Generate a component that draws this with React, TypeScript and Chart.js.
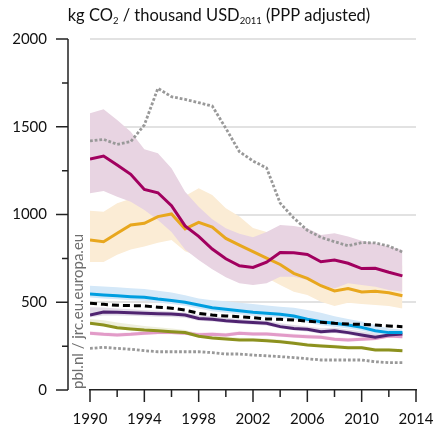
import React, { useEffect, useRef } from "react";
import { Chart, registerables } from "chart.js";
Chart.register(...registerables);

const FONT = 'Lato, "Open Sans", sans-serif';

const years = [1990, 1991, 1992, 1993, 1994, 1995, 1996, 1997, 1998, 1999, 2000, 2001, 2002, 2003, 2004, 2005, 2006, 2007, 2008, 2009, 2010, 2011, 2012, 2013];
const xTickValues = [1990, 1992, 1994, 1996, 1998, 2000, 2002, 2004, 2006, 2008, 2010, 2012, 2014];
const xLabelYears = [1990, 1994, 1998, 2002, 2006, 2010, 2014];
const yTickValues = [0, 250, 500, 750, 1000, 1250, 1500, 1750, 2000];
const yLabelValues = [0, 500, 1000, 1500, 2000];

// series values (kg CO2 / thousand USD2011)
const grayTop = [1419, 1428, 1400, 1415, 1510, 1719, 1671, 1656, 1637, 1618, 1491, 1358, 1305, 1265, 1065, 980, 910, 870, 845, 822, 840, 838, 820, 786];
const magenta = [1316, 1333, 1282, 1229, 1143, 1124, 1050, 935, 875, 803, 748, 708, 698, 728, 783, 782, 772, 731, 740, 722, 692, 694, 671, 650];
const orange = [855, 845, 893, 940, 950, 988, 1003, 918, 955, 928, 864, 826, 788, 752, 715, 665, 636, 594, 564, 578, 558, 562, 554, 537];
const blue = [547, 542, 537, 532, 528, 518, 510, 500, 484, 469, 460, 452, 443, 437, 431, 422, 403, 389, 380, 370, 357, 338, 327, 327];
const dashedBlack = [494, 488, 483, 481, 479, 472, 466, 455, 437, 427, 422, 418, 412, 405, 403, 399, 392, 386, 380, 376, 374, 370, 365, 361];
const purple = [427, 444, 443, 440, 437, 435, 433, 427, 408, 403, 395, 389, 384, 380, 361, 351, 346, 332, 338, 327, 313, 300, 313, 319];
const olive = [380, 370, 355, 348, 342, 338, 332, 327, 306, 296, 291, 285, 285, 281, 275, 266, 256, 251, 247, 241, 241, 228, 228, 224];
const pinkLine = [323, 317, 313, 317, 323, 327, 327, 323, 315, 317, 313, 323, 319, 319, 313, 308, 304, 300, 289, 285, 289, 294, 308, 304];
const grayBottom = [237, 243, 237, 232, 224, 218, 218, 218, 218, 213, 205, 205, 199, 195, 190, 185, 178, 171, 171, 171, 171, 161, 156, 156];

// uncertainty bands
const magentaBandUpper = [1577, 1600, 1538, 1472, 1372, 1349, 1263, 1130, 1044, 973, 921, 890, 870, 900, 940, 934, 921, 883, 893, 874, 851, 836, 817, 798];
const magentaBandLower = [1121, 1134, 1101, 1073, 1026, 969, 900, 800, 741, 688, 642, 608, 598, 608, 646, 646, 627, 598, 579, 608, 598, 589, 570, 560];
const orangeBandUpper = [1022, 1016, 1064, 1090, 1110, 1120, 1130, 1105, 1149, 1111, 1035, 988, 923, 900, 880, 850, 820, 780, 760, 750, 740, 730, 720, 710];
const orangeBandLower = [730, 730, 770, 800, 817, 839, 855, 790, 760, 730, 700, 680, 660, 640, 598, 560, 541, 503, 479, 497, 490, 484, 479, 465];
const blueBandUpper = [594, 590, 585, 580, 575, 565, 555, 540, 522, 512, 505, 497, 490, 482, 475, 468, 456, 440, 420, 405, 390, 370, 350, 345];
const blueBandLower = [527, 522, 517, 512, 508, 498, 490, 480, 464, 449, 440, 432, 423, 417, 411, 402, 383, 369, 360, 350, 337, 320, 310, 310];
const purpleBandUpper = [471, 470, 465, 460, 455, 452, 448, 442, 428, 420, 412, 405, 400, 395, 380, 370, 362, 352, 355, 345, 333, 322, 325, 328];
const purpleBandLower = [414, 425, 425, 423, 420, 418, 416, 412, 395, 390, 383, 377, 372, 368, 350, 340, 334, 320, 325, 315, 300, 290, 300, 310];
const oliveBandUpper = [405, 398, 385, 375, 365, 358, 350, 342, 322, 312, 305, 298, 297, 293, 287, 278, 268, 262, 258, 252, 251, 240, 238, 234];
const oliveBandLower = [375, 365, 350, 343, 337, 333, 327, 322, 301, 291, 286, 280, 280, 276, 270, 261, 251, 246, 242, 236, 236, 223, 223, 219];
const pinkBandUpper = [335, 329, 325, 329, 335, 339, 339, 335, 327, 329, 325, 335, 331, 331, 325, 320, 316, 312, 301, 297, 301, 306, 320, 316];
const pinkBandLower = [313, 307, 303, 307, 313, 317, 317, 313, 305, 307, 303, 313, 309, 309, 303, 298, 294, 290, 279, 275, 279, 284, 298, 294];

const pts = (vals: number[]) => years.map((yr, i) => ({ x: yr, y: vals[i] }));

const line = (vals: number[], color: string, extra: any = {}) => ({
  data: pts(vals),
  borderColor: color,
  borderWidth: 3,
  pointRadius: 0,
  tension: 0,
  fill: false,
  ...extra,
});

const band = (vals: number[], color: string, upper: boolean) => ({
  data: pts(vals),
  borderColor: "rgba(0,0,0,0)",
  borderWidth: 0,
  pointRadius: 0,
  tension: 0,
  backgroundColor: color,
  fill: upper ? "+1" : false,
});

const decorPlugin = {
  id: "decor",
  afterDraw(chart: any) {
    const ctx = chart.ctx;
    const xs = chart.scales.x;
    const ys = chart.scales.y;
    ctx.save();
    ctx.strokeStyle = "#222";
    ctx.lineWidth = 1.5;
    // y axis (offset from plot)
    const axX = 68;
    ctx.beginPath();
    ctx.moveTo(axX, ys.getPixelForValue(2000));
    ctx.lineTo(axX, ys.getPixelForValue(0));
    for (const v of yTickValues) {
      const py = ys.getPixelForValue(v);
      const len = v % 500 === 0 ? 12 : 6;
      ctx.moveTo(axX - len, py);
      ctx.lineTo(axX, py);
    }
    // x ticks
    const base = chart.chartArea.bottom;
    for (const v of xTickValues) {
      const px = xs.getPixelForValue(v);
      const len = xLabelYears.includes(v) ? 12 : 7;
      ctx.moveTo(px, base);
      ctx.lineTo(px, base + len);
    }
    ctx.stroke();

    // title with subscripts
    const parts = [
      { t: "kg CO", sub: false },
      { t: "2", sub: true },
      { t: " / thousand USD", sub: false },
      { t: "2011", sub: true },
      { t: " (PPP adjusted)", sub: false },
    ];
    const mainFont = `16.5px ${FONT}`;
    const subFont = `9.5px ${FONT}`;
    let total = 0;
    for (const p of parts) {
      ctx.font = p.sub ? subFont : mainFont;
      total += ctx.measureText(p.t).width;
    }
    let cx = 219 - total / 2;
    ctx.fillStyle = "#111";
    ctx.textBaseline = "alphabetic";
    ctx.textAlign = "left";
    for (const p of parts) {
      ctx.font = p.sub ? subFont : mainFont;
      ctx.fillText(p.t, cx, p.sub ? 24 : 21);
      cx += ctx.measureText(p.t).width;
    }

    // vertical source text
    ctx.translate(83, 389);
    ctx.rotate(-Math.PI / 2);
    ctx.font = `15px ${FONT}`;
    ctx.fillStyle = "#6e6e6e";
    ctx.textAlign = "left";
    ctx.fillText("pbl.nl / jrc.eu.europa.eu", 0, 0);
    ctx.restore();
  },
};

export default function App() {
  const ref = useRef<HTMLCanvasElement>(null);
  useEffect(() => {
    document.body.style.margin = "0";
    const chart = new Chart(ref.current as HTMLCanvasElement, {
      type: "line",
      data: {
        datasets: [
          line(dashedBlack, "#000000", { borderDash: [7, 4], borderCapStyle: "butt" }),
          line(magenta, "#a1005f"),
          line(orange, "#e8a71e"),
          line(blue, "#009ee0"),
          line(purple, "#4f2370"),
          line(olive, "#8c911e"),
          line(pinkLine, "#e29bc8"),
          line(grayTop, "#999999", { borderWidth: 2.8, borderDash: [2.8, 1.9], borderCapStyle: "butt" }),
          line(grayBottom, "#999999", { borderWidth: 2.8, borderDash: [2.8, 1.9], borderCapStyle: "butt" }),
          band(magentaBandUpper, "rgb(232,212,226)", true),
          band(magentaBandLower, "rgb(232,212,226)", false),
          band(orangeBandUpper, "rgb(251,236,213)", true),
          band(orangeBandLower, "rgb(251,236,213)", false),
          band(blueBandUpper, "rgb(212,232,248)", true),
          band(blueBandLower, "rgb(212,232,248)", false),
          band(purpleBandUpper, "rgba(110,80,140,0.2)", true),
          band(purpleBandLower, "rgba(110,80,140,0.2)", false),
          band(oliveBandUpper, "rgba(160,165,60,0.18)", true),
          band(oliveBandLower, "rgba(160,165,60,0.18)", false),
          band(pinkBandUpper, "rgba(230,160,205,0.25)", true),
          band(pinkBandLower, "rgba(230,160,205,0.25)", false),
        ] as any,
      },
      options: {
        animation: false,
        responsive: false,
        maintainAspectRatio: false,
        layout: { padding: { top: 39, right: 20, left: 0, bottom: 0 } },
        plugins: {
          legend: { display: false },
          tooltip: { enabled: false },
          title: { display: false },
          filler: { drawTime: "beforeDatasetsDraw" } as any,
        },
        scales: {
          x: {
            type: "linear",
            min: 1990,
            max: 2014,
            afterFit: (s: any) => {
              s.height = 38;
              s.paddingLeft = 0;
              s.paddingRight = 0;
            },
            grid: { display: true, drawOnChartArea: false, drawTicks: false },
            border: { display: true, color: "#222", width: 1.5 },
            ticks: {
              stepSize: 2,
              autoSkip: false,
              maxRotation: 0,
              padding: 20,
              color: "#111",
              font: { family: FONT, size: 15 },
              callback: (v: any) => (xLabelYears.includes(Number(v)) ? String(v) : ""),
            },
          },
          y: {
            min: 0,
            max: 2000,
            afterFit: (s: any) => {
              s.width = 90;
              s.paddingTop = 0;
              s.paddingBottom = 0;
            },
            border: { display: false },
            grid: {
              drawTicks: false,
              lineWidth: 2,
              color: (c: any) =>
                c.tick && c.tick.value > 0 && c.tick.value % 500 === 0 ? "#e2e2e2" : "rgba(0,0,0,0)",
            },
            ticks: {
              stepSize: 250,
              padding: 43,
              color: "#111",
              font: { family: FONT, size: 15 },
              callback: (v: any) => (yLabelValues.includes(Number(v)) ? String(v) : ""),
            },
          },
        },
      },
      plugins: [decorPlugin],
    });
    return () => chart.destroy();
  }, []);
  return (
    <div style={{ position: "fixed", left: 0, top: 0, width: 436, height: 428 }}>
      <canvas ref={ref} width={436} height={428} />
    </div>
  );
}
